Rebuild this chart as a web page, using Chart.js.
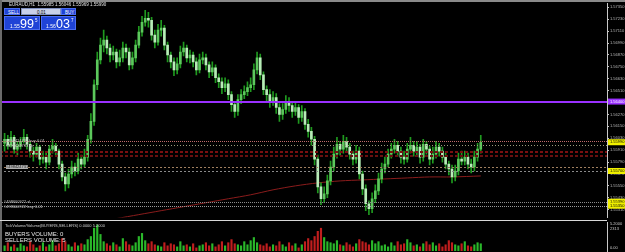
<!DOCTYPE html>
<html><head><meta charset="utf-8">
<script src="https://cdn.jsdelivr.net/npm/chart.js@4.4.0/dist/chart.umd.min.js"></script>
<style>
html,body{margin:0;padding:0;background:#000;}
#wrap{position:relative;width:625px;height:252px;overflow:hidden;background:#000;font-family:"Liberation Sans",Arial,sans-serif;}
canvas{position:absolute;left:0;}
.t{position:absolute;white-space:nowrap;line-height:1;}
.box{position:absolute;background:#1f43d6;border:1px solid #4a6cf0;box-sizing:border-box;color:#fff;}
</style></head><body>
<div id="wrap">
<canvas id="price" width="625" height="221" style="top:0"></canvas>
<canvas id="vol" width="625" height="31" style="top:221px"></canvas>
<div style="position:absolute;left:0;top:0;width:625px;height:2px;background:#8a8a8a"></div>
<div style="position:absolute;left:0;top:0;width:2px;height:252px;background:#6a6a6a"></div>
<div style="position:absolute;left:0;top:220px;width:607px;height:1px;background:#d8d8d8"></div>
<div class="t" style="left:9px;top:2.5px;font-size:4.5px;color:#e0e0e0">EURAUD,H1&nbsp; 1.55985 1.56046 1.55969 1.55990</div>
<!-- trade panel -->
<div class="box" style="left:4px;top:8px;width:16px;height:7px;"><div class="t" style="left:3px;top:1.5px;font-size:4.5px">SELL</div></div>
<div class="box" style="left:21px;top:8px;width:40px;height:7px;background:#c8d0e8;border-color:#8090c0"><div class="t" style="left:15px;top:1.5px;font-size:4.5px;color:#000">0.01</div></div>
<div class="box" style="left:61px;top:8px;width:15px;height:7px;"><div class="t" style="left:3px;top:1.5px;font-size:4.5px">BUY</div></div>
<div class="box" style="left:4px;top:16px;width:36px;height:14px;">
  <div class="t" style="left:5px;top:7px;font-size:5px">1.55</div>
  <div class="t" style="left:15px;top:1px;font-size:12.5px">99</div>
  <div class="t" style="left:30px;top:1.5px;font-size:4.5px">5</div>
</div>
<div class="box" style="left:41px;top:16px;width:35px;height:14px;">
  <div class="t" style="left:4px;top:7px;font-size:5px">1.56</div>
  <div class="t" style="left:14px;top:1px;font-size:12.5px">03</div>
  <div class="t" style="left:29px;top:1.5px;font-size:4.5px">7</div>
</div>
<!-- trade labels -->
<div class="t" style="left:6px;top:139px;font-size:4px;color:#c8c8c8">#498424731 buy 0.01</div>
<div class="t" style="left:6px;top:144px;font-size:4px;color:#c8c8c8">#498424731 tp</div>
<div class="t" style="left:6px;top:165px;font-size:4px;color:#202020;background:#b0b0b0">#498424731</div>
<div class="t" style="left:4px;top:200px;font-size:4px;color:#c8c8c8">#498600922 sl</div>
<div class="t" style="left:4px;top:205px;font-size:4px;color:#c8c8c8">#498600922 buy 0.01</div>
<!-- volume pane texts -->
<div class="t" style="left:5px;top:224px;font-size:4px;color:#d0d0d0">TickVolume/Volume(BUYERS,SELLERS) 0.0000 5.2000</div>
<div class="t" style="left:5px;top:230.5px;font-size:6px;color:#e8e8e8">BUYERS VOLUME: 0</div>
<div class="t" style="left:5px;top:236.5px;font-size:6px;color:#e8e8e8">SELLERS VOLUME: 5</div>
<div class="t" style="left:610px;top:222px;font-size:4px;color:#c8c8c8">5.2000</div>
<div class="t" style="left:610px;top:227px;font-size:4px;color:#c8c8c8">2313</div>
<div class="t" style="left:610px;top:246px;font-size:4px;color:#c8c8c8">0.00</div>
</div>
<script>
// ---------------- data ----------------
const firstOpen = 1.5598;
const closes = [1.5602,1.5596,1.5604,1.5592,1.5595,1.5600,1.5604,1.5597,1.5590,1.5587,
1.5594,1.5582,1.5584,1.5579,1.5592,1.5595,1.5590,1.5577,1.5564,1.5557,
1.5567,1.5574,1.5570,1.5582,1.5577,1.5584,1.5602,1.5620,1.5657,1.5682,
1.5697,1.5702,1.5694,1.5687,1.5690,1.5680,1.5684,1.5694,1.5690,1.5677,
1.5684,1.5697,1.5710,1.5720,1.5724,1.5722,1.5707,1.5700,1.5712,1.5714,
1.5697,1.5687,1.5680,1.5672,1.5678,1.5690,1.5694,1.5684,1.5687,1.5680,
1.5672,1.5682,1.5684,1.5677,1.5670,1.5674,1.5664,1.5660,1.5654,1.5658,
1.5647,1.5637,1.5630,1.5642,1.5647,1.5650,1.5654,1.5657,1.5672,1.5684,
1.5667,1.5652,1.5647,1.5640,1.5644,1.5634,1.5627,1.5632,1.5640,1.5636,
1.5630,1.5634,1.5624,1.5630,1.5617,1.5610,1.5602,1.5582,1.5554,1.5542,
1.5547,1.5560,1.5574,1.5587,1.5597,1.5592,1.5600,1.5594,1.5587,1.5582,
1.5590,1.5567,1.5552,1.5537,1.5532,1.5542,1.5550,1.5562,1.5572,1.5577,
1.5587,1.5592,1.5596,1.5590,1.5584,1.5582,1.5592,1.5596,1.5590,1.5594,
1.5584,1.5597,1.5592,1.5582,1.5587,1.5594,1.5590,1.5584,1.5577,1.5572,
1.5564,1.5570,1.5582,1.5580,1.5584,1.5577,1.5574,1.5584,1.5592,1.5599];
const highs = [1.5608,1.5606,1.5610,1.5606,1.5600,1.5604,1.5612,1.5607,1.5600,1.5594,
1.5598,1.5596,1.5590,1.5588,1.5596,1.5602,1.5598,1.5592,1.5580,1.5568,
1.5572,1.5580,1.5578,1.5588,1.5586,1.5592,1.5606,1.5628,1.5662,1.5690,
1.5704,1.5712,1.5706,1.5698,1.5696,1.5693,1.5692,1.5700,1.5698,1.5694,
1.5690,1.5702,1.5716,1.5726,1.5732,1.5730,1.5725,1.5712,1.5718,1.5722,
1.5717,1.5700,1.5690,1.5684,1.5684,1.5696,1.5700,1.5697,1.5692,1.5690,
1.5684,1.5688,1.5690,1.5688,1.5680,1.5680,1.5677,1.5668,1.5664,1.5664,
1.5662,1.5650,1.5640,1.5647,1.5652,1.5656,1.5660,1.5664,1.5678,1.5690,
1.5688,1.5670,1.5656,1.5652,1.5650,1.5648,1.5638,1.5638,1.5646,1.5644,
1.5640,1.5640,1.5637,1.5636,1.5633,1.5622,1.5614,1.5605,1.5586,1.5558,
1.5554,1.5566,1.5580,1.5594,1.5604,1.5600,1.5606,1.5604,1.5598,1.5590,
1.5596,1.5594,1.5570,1.5556,1.5540,1.5548,1.5556,1.5568,1.5578,1.5584,
1.5592,1.5598,1.5602,1.5600,1.5594,1.5590,1.5598,1.5604,1.5600,1.5600,
1.5597,1.5602,1.5600,1.5595,1.5594,1.5600,1.5598,1.5594,1.5588,1.5580,
1.5576,1.5576,1.5588,1.5590,1.5590,1.5588,1.5582,1.5590,1.5598,1.5606];
const lows = [1.5590,1.5592,1.5594,1.5588,1.5586,1.5592,1.5598,1.5592,1.5584,1.5580,
1.5584,1.5576,1.5578,1.5572,1.5576,1.5588,1.5585,1.5572,1.5560,1.5550,
1.5553,1.5563,1.5565,1.5567,1.5572,1.5574,1.5580,1.5598,1.5616,1.5652,
1.5678,1.5690,1.5688,1.5680,1.5682,1.5674,1.5676,1.5680,1.5684,1.5672,
1.5673,1.5680,1.5694,1.5706,1.5716,1.5715,1.5702,1.5694,1.5697,1.5706,
1.5692,1.5680,1.5674,1.5666,1.5668,1.5674,1.5686,1.5680,1.5679,1.5675,
1.5667,1.5669,1.5678,1.5672,1.5664,1.5666,1.5659,1.5654,1.5648,1.5650,
1.5642,1.5630,1.5624,1.5626,1.5638,1.5643,1.5646,1.5650,1.5652,1.5668,
1.5662,1.5647,1.5640,1.5634,1.5636,1.5628,1.5620,1.5622,1.5628,1.5630,
1.5624,1.5626,1.5618,1.5620,1.5612,1.5604,1.5596,1.5576,1.5548,1.5536,
1.5538,1.5543,1.5556,1.5570,1.5583,1.5586,1.5588,1.5590,1.5582,1.5576,
1.5578,1.5562,1.5546,1.5530,1.5526,1.5528,1.5538,1.5546,1.5558,1.5568,
1.5574,1.5583,1.5588,1.5585,1.5578,1.5577,1.5579,1.5588,1.5585,1.5586,
1.5578,1.5580,1.5587,1.5576,1.5578,1.5583,1.5585,1.5579,1.5572,1.5566,
1.5558,1.5560,1.5566,1.5576,1.5576,1.5572,1.5568,1.5570,1.5580,1.5588];
const volumes = [5,8,4,6,3,7,5,4,9,6, 3,5,8,4,6,10,5,7,12,9, 6,4,8,5,7,6,11,14,22,25,
16,9,7,5,8,6,4,12,9,6, 5,8,14,17,10,7,9,6,5,4, 8,5,7,6,4,9,5,6,4,7,
3,5,6,8,5,7,4,6,9,5, 8,11,7,6,5,9,6,10,13,8, 6,5,7,4,6,5,9,6,4,8,
5,7,3,6,9,12,10,14,19,22, 13,9,8,7,10,6,5,8,6,4, 7,11,9,8,6,10,7,9,5,6,
4,8,5,9,6,7,11,8,5,6, 4,7,9,6,8,5,7,4,6,10, 8,6,5,7,9,5,4,6,8,7];
// moving average readings (bar index -> value)
const maIndex = [28,35,42,49,56,63,70,77,84,91,98,105,112,119,126,133,140,149];
const maValues = [1.5518,1.5522,1.5526,1.5530,1.5534,1.5538,1.5542,1.5546,1.5551,1.5555,1.5558,1.5560,1.5561,1.5562,1.5563,1.5564,1.5564,1.5565];
const tickValues = [1.5735,1.5723,1.5711,1.5699,1.5687,1.5675,1.5663,1.5651,1.5639,1.5627,1.5615,1.5603,1.5591,1.5579,1.5567,1.5555,1.5543,1.5531];
const levelPrices = [1.5640,1.5600,1.5596,1.5589,1.5585,1.5574,1.5570,1.5539,1.5535];
const levelColors = ['#9a30ff','#c06a6a','#9a9a7a','#7a1010','#6a1010','#a08060','#8a8a8a','#8a8a8a','#9a9a9a'];
const levelDash = [[],[1,1],[1,2],[3,2],[3,2],[2,2],[2,2],[1,1],[1,1]];
const levelWidth = [2,1,1,2,2,1,1,1,1];
const axisLabelPrices = [1.5640,1.5599,1.5570,1.5539,1.5535];
const axisLabelText = ['1.56400','1.55990','1.55700','1.55390','1.55350'];
const axisLabelColors = ['#9a30ff','#f0f000','#f0f000','#f0f000','#f0f000'];
const totalSlots = 189;
// ---------------------------------------
const n = closes.length;
const opens = closes.map((c,i)=> i===0 ? firstOpen : closes[i-1]);
const labels = Array.from({length: totalSlots}, (_, i) => String(i));
const wickData = lows.map((l,i)=>[l, highs[i]]);
const bodyData = opens.map((o,i)=>[o, closes[i]]);
const bodyColors = opens.map((o,i)=> closes[i] >= o ? '#5cc85c' : '#b8ecb8');
const maData = new Array(totalSlots).fill(null);
maIndex.forEach((k,j)=>{ maData[k] = maValues[j]; });
const volColors = opens.map((o,i)=> closes[i] >= o ? '#2ab82a' : '#c01e1e');

const yMin = 1.5523, yMax = 1.5739;

const levelsPlugin = {
  id:'levels',
  afterDatasetsDraw(chart){
    const {ctx, chartArea:a} = chart; const y = chart.scales.y;
    ctx.save();
    levelPrices.forEach((p,i)=>{
      const py = Math.round(y.getPixelForValue(p)) + (levelWidth[i]===1?0.5:0);
      ctx.beginPath(); ctx.setLineDash(levelDash[i]); ctx.lineWidth = levelWidth[i];
      ctx.strokeStyle = levelColors[i]; ctx.moveTo(a.left-3, py); ctx.lineTo(a.right, py); ctx.stroke();
    });
    ctx.restore();
  },
  afterDraw(chart){
    const {ctx, chartArea:a} = chart; const y = chart.scales.y;
    ctx.save();
    axisLabelPrices.forEach((p,i)=>{
      const py = y.getPixelForValue(p);
      ctx.fillStyle = axisLabelColors[i]; ctx.fillRect(a.right+1, py-3, 17, 6);
      ctx.fillStyle = i===0 ? '#ffffff' : '#000000';
      ctx.font = '4px "Liberation Sans"'; ctx.textBaseline='middle';
      ctx.fillText(axisLabelText[i], a.right+3, py);
    });
    ctx.restore();
  }
};

const commonX = { type:'category', display:false, offset:true, grid:{display:false} };

new Chart(document.getElementById('price'), {
  data:{ labels, datasets:[
    { type:'line', data: maData, borderColor:'#8a1c1c', borderWidth:1, pointRadius:0, spanGaps:true, tension:0.3, order:3 },
    { type:'bar', data: wickData, backgroundColor:'#1f9a1f', barThickness:1, grouped:false, order:2 },
    { type:'bar', data: bodyData, backgroundColor: bodyColors, barThickness:2, grouped:false, minBarLength:1, order:1 }
  ]},
  options:{
    responsive:false, animation:false, events:[],
    layout:{ padding:{left:3, top:3, right:0, bottom:2} },
    plugins:{ legend:{display:false}, tooltip:{enabled:false} },
    scales:{
      x: commonX,
      y:{ position:'right', min:yMin, max:yMax,
        afterFit(s){ s.width = 18; },
        afterBuildTicks(s){ s.ticks = tickValues.map(v=>({value:v})); },
        ticks:{ color:'#b8b8b8', font:{size:4, family:'"Liberation Sans"'}, padding:1, callback:v=>Number(v).toFixed(5) },
        grid:{ display:true, drawOnChartArea:false, drawTicks:true, tickLength:2, color:'#c8c8c8' },
        border:{ display:true, color:'#c8c8c8' }
      }
    }
  },
  plugins:[levelsPlugin]
});

new Chart(document.getElementById('vol'), {
  data:{ labels, datasets:[
    { type:'bar', data: volumes, backgroundColor: volColors, barThickness:1.5, grouped:false }
  ]},
  options:{
    responsive:false, animation:false, events:[],
    layout:{ padding:{left:3, top:1, right:0, bottom:1} },
    plugins:{ legend:{display:false}, tooltip:{enabled:false} },
    scales:{
      x: commonX,
      y:{ position:'right', min:0, max:28,
        afterFit(s){ s.width = 18; },
        ticks:{ display:false },
        grid:{ display:false },
        border:{ display:true, color:'#c8c8c8' }
      }
    }
  }
});
</script>
</body></html>
